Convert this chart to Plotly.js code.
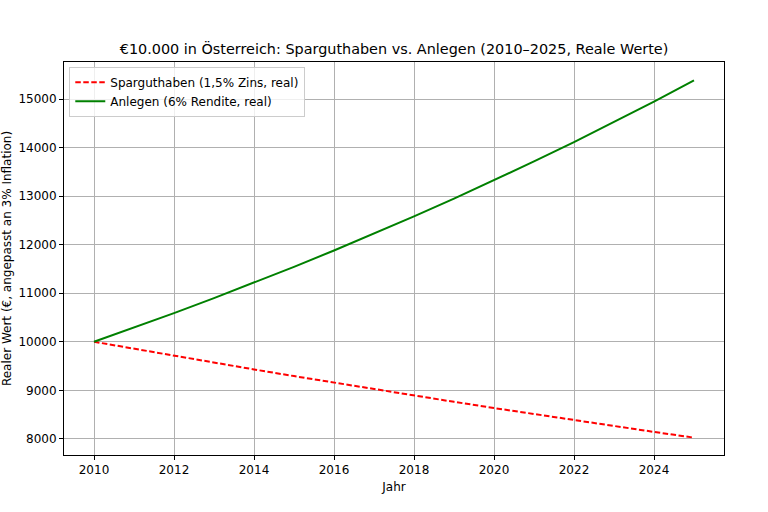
<!DOCTYPE html>
<html>
<head>
<meta charset="utf-8">
<script src="https://cdn.plot.ly/plotly-3.0.1.min.js"></script>
<style>html,body{margin:0;padding:0;background:#fff;}#chart{width:768px;height:512px;}</style>
</head>
<body>
<div id="chart"></div>
<script>
const years = [2010,2011,2012,2013,2014,2015,2016,2017,2018,2019,2020,2021,2022,2023,2024,2025];
const sparguthaben = [10000,9854.37,9710.86,9569.44,9430.08,9292.75,9157.42,9024.06,8892.64,8763.14,8635.52,8509.76,8385.83,8263.71,8143.37,8024.78];
const anlegen = [10000,10291.26,10591.01,10899.49,11216.95,11543.66,11879.88,12225.89,12581.98,12948.44,13325.58,13713.70,14113.13,14524.19,14947.22,15382.58];
const xTicks = [2010,2012,2014,2016,2018,2020,2022,2024];
const yTicks = [8000,9000,10000,11000,12000,13000,14000,15000];

const font = "DejaVu Sans, sans-serif";
const traces = [
  {x: years, y: sparguthaben, mode: 'lines', name: 'Sparguthaben (1,5% Zins, real)',
   line: {color: 'red', width: 2, dash: '5.5px,2.5px'}},
  {x: years, y: anlegen, mode: 'lines', name: 'Anlegen (6% Rendite, real)',
   line: {color: 'green', width: 2}}
];
const axisCommon = {
  showline: true, mirror: true, linecolor: 'black', linewidth: 1,
  ticks: 'outside', ticklen: 4, tickwidth: 1, tickcolor: 'black',
  showgrid: true, gridcolor: '#b0b0b0', gridwidth: 1, zeroline: false,
  tickfont: {family: font, size: 12, color: 'black'}
};
const layout = {
  width: 768, height: 512,
  margin: {l: 64, r: 44, t: 62, b: 57},
  paper_bgcolor: 'white', plot_bgcolor: 'white',
  font: {family: font, color: 'black'},
  title: {text: '€10.000 in Österreich: Sparguthaben vs. Anlegen (2010–2025, Reale Werte)',
          font: {family: font, size: 14.4, color: 'black'},
          xref: 'paper', x: 0.5, xanchor: 'center', yref: 'container', y: 0.904, yanchor: 'middle'},
  xaxis: Object.assign({}, axisCommon, {
    range: [2009.25, 2025.75], tickvals: xTicks, ticktext: xTicks.map(String),
    title: {text: 'Jahr', font: {family: font, size: 12, color: 'black'}, standoff: 6}
  }),
  yaxis: Object.assign({}, axisCommon, {
    range: [7668, 15762], tickvals: yTicks, ticktext: yTicks.map(String),
    title: {text: 'Realer Wert (€, angepasst an 3% Inflation)', font: {family: font, size: 12, color: 'black'}, standoff: 8}
  }),
  legend: {x: 0.008, y: 0.988, xanchor: 'left', yanchor: 'top',
    bgcolor: 'rgba(255,255,255,0.8)', bordercolor: '#cccccc', borderwidth: 1,
    font: {family: font, size: 12, color: 'black'}, tracegroupgap: 0, itemwidth: 30},
  showlegend: true
};
Plotly.newPlot('chart', traces, layout, {staticPlot: true, displayModeBar: false});
</script>
</body>
</html>
